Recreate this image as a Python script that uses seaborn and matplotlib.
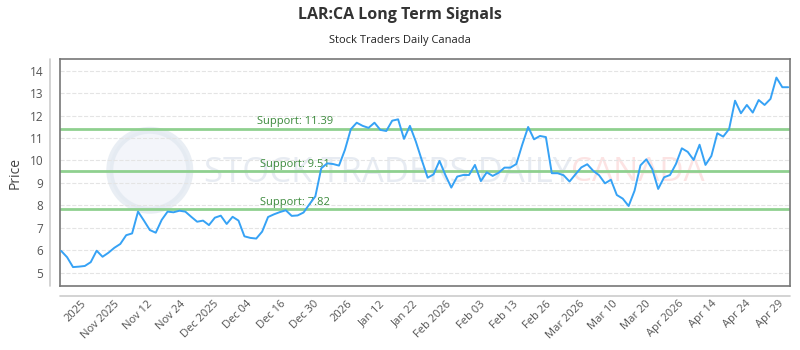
import numpy as np
import pandas as pd
import matplotlib
matplotlib.use('Agg')
import matplotlib.pyplot as plt
import seaborn as sns
from matplotlib.lines import Line2D
from matplotlib.patches import Ellipse

# price series (one value per trading day)
prices = [5.97, 5.69, 5.25, 5.27, 5.30, 5.47, 5.98, 5.71, 5.89, 6.11,
          6.28, 6.67, 6.75, 7.72, 7.32, 6.90, 6.78, 7.35, 7.72, 7.69,
          7.76, 7.72, 7.49, 7.27, 7.32, 7.12, 7.45, 7.54, 7.17, 7.49,
          7.32, 6.62, 6.55, 6.52, 6.83, 7.48, 7.60, 7.70, 7.78, 7.53,
          7.55, 7.68, 8.05, 8.40, 9.65, 9.87, 9.84, 9.77, 10.47, 11.39,
          11.68, 11.54, 11.45, 11.68, 11.36, 11.31, 11.77, 11.83, 10.96, 11.54,
          10.84, 10.02, 9.23, 9.38, 9.98, 9.35, 8.79, 9.28, 9.35, 9.35,
          9.80, 9.08, 9.47, 9.31, 9.45, 9.68, 9.68, 9.84, 10.70, 11.49,
          10.94, 11.09, 11.04, 9.43, 9.43, 9.34, 9.06, 9.38, 9.69, 9.83,
          9.54, 9.34, 8.98, 9.14, 8.46, 8.30, 7.97, 8.65, 9.78, 10.05,
          9.61, 8.73, 9.25, 9.35, 9.84, 10.54, 10.38, 10.02, 10.70, 9.80,
          10.20, 11.21, 11.06, 11.40, 12.66, 12.10, 12.47, 12.13, 12.69, 12.47,
          12.74, 13.69, 13.26, 13.26]

tick_labels = ['2025', 'Nov 2025', 'Nov 12', 'Nov 24', 'Dec 2025', 'Dec 04',
               'Dec 16', 'Dec 30', '2026', 'Jan 12', 'Jan 22', 'Feb 2026',
               'Feb 03', 'Feb 13', 'Feb 26', 'Mar 2026', 'Mar 10', 'Mar 20',
               'Apr 2026', 'Apr 14', 'Apr 24', 'Apr 29']

supports = [11.39, 9.51, 7.82]

df = pd.DataFrame({'day': np.arange(len(prices)), 'price': prices})

sns.set_style('white')
plt.rcParams['font.family'] = ['Open Sans', 'DejaVu Sans']

fig = plt.figure(figsize=(8, 3.5), dpi=100)
ax = fig.add_axes([0.075, 0.183, 0.9125, 0.648])

# faint watermark (logo circle + text)
ax.add_patch(Ellipse((0.123, 0.51), 80 / 730, 80 / 227, transform=ax.transAxes,
                     facecolor='#eef2f8', edgecolor='#e0e7f0', lw=5, alpha=0.7, zorder=0))
ax.text(0.197, 0.5, 'STOCK TRADERS DAILY', transform=ax.transAxes, fontsize=25,
        color='#e1e7ef', alpha=0.8, va='center', ha='left', zorder=0)
ax.text(0.7, 0.5, 'CANADA', transform=ax.transAxes, fontsize=24,
        color='#fcdcdc', alpha=0.8, va='center', ha='left', zorder=0)

for s in supports:
    ax.axhline(s, color='#8fd08f', lw=2, zorder=2)
    ax.text(39.5, s + 0.08, f'Support: {s}', color='#3c8a3c', fontsize=8,
            ha='center', va='bottom', zorder=3)

sns.lineplot(data=df, x='day', y='price', ax=ax, color='#36a2f5', lw=1.4, zorder=4)

ax.set_xlim(-0.2, len(prices) - 1 + 0.3)
ax.set_ylim(4.41, 14.51)
ax.set_yticks(range(5, 15))
ax.yaxis.grid(True, color='#e4e4e4', ls='--', lw=0.8)
ax.set_axisbelow(True)

ax.set_xticks(np.linspace(3.3, 121.3, len(tick_labels)))
ax.set_xticklabels(tick_labels, rotation=45, ha='right', rotation_mode='anchor')
ax.tick_params(axis='x', labelsize=8, colors='#555555', length=0, pad=9)
ax.tick_params(axis='y', labelsize=8.5, colors='#555555', length=0, pad=12)
ax.set_xlabel('')
ax.set_ylabel('Price', fontsize=10, color='#444444', labelpad=5)

for sp in ax.spines.values():
    sp.set_color('#777777')
    sp.set_linewidth(1.2)

# offset axis lines outside the frame
fig.add_artist(Line2D([50 / 800, 50 / 800], [1 - 59 / 350, 1 - 286 / 350],
                      color='#cccccc', lw=1.2))
fig.add_artist(Line2D([60 / 800, 790 / 800], [1 - 296 / 350, 1 - 296 / 350],
                      color='#cccccc', lw=1.2))

fig.text(0.5, 1 - 15 / 350, 'LAR:CA Long Term Signals', ha='center', va='center',
         fontsize=11.5, fontweight='bold', color='#333333')
fig.text(0.5, 1 - 40 / 350, 'Stock Traders Daily Canada', ha='center', va='center',
         fontsize=8, color='#222222')

fig.savefig('out.png', dpi=100)
